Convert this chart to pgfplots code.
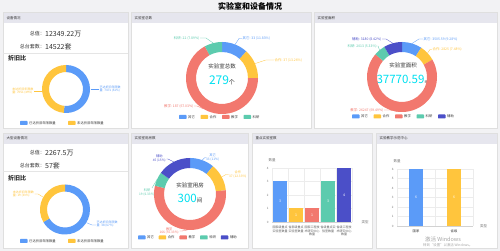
\documentclass[border=0pt]{standalone}
\usepackage{fontspec}
\setmainfont{Noto Sans CJK SC}
\usepackage{pgfplots}
\pgfplotsset{compat=1.18}

\definecolor{cb}{HTML}{5B9BF8}
\definecolor{cy}{HTML}{FFC53D}
\definecolor{cr}{HTML}{F2786E}
\definecolor{cg}{HTML}{5CCBAE}
\definecolor{cd}{HTML}{4B4FC8}
\definecolor{cc}{HTML}{00E0F0}
\definecolor{bg}{HTML}{F2F2F4}
\definecolor{hd}{HTML}{E6E6EE}
\definecolor{txt}{HTML}{333333}
\definecolor{lt}{HTML}{777777}

\newcommand{\ft}[1]{\fontsize{#1}{\fpeval{1.2*#1}}\selectfont}
% donut slice: start, end, total, colour, R, Ri (clockwise from 12 o'clock)
\newcommand{\slice}[6]{%
 \fill[#4] ([shift={({\fpeval{90-360*#1/#3}}:#5pt)}]axis cs:0,0)
   arc[start angle={\fpeval{90-360*#1/#3}}, end angle={\fpeval{90-360*#2/#3}}, radius=#5pt]
   -- ([shift={({\fpeval{90-360*#2/#3}}:#6pt)}]axis cs:0,0)
   arc[start angle={\fpeval{90-360*#2/#3}}, end angle={\fpeval{90-360*#1/#3}}, radius=#6pt] -- cycle;}
\newcommand{\panel}[6]{%
 \fill[white] (#1,#2) rectangle (#3,#4);
 \fill[hd] (#1,#2) rectangle (#3,#2+#5);
 \draw[line width=0.3pt, gray!25] (#1,#2) rectangle (#3,#4);
 \node[anchor=west, font=\ft{3.5}, text=txt, inner sep=0] at (#1+3.5,#2+#5/2) {#6};}
\newcommand{\leg}[4]{%
 \fill[#1, rounded corners=0.6pt] (#2,#3-2) rectangle (#2+7.5,#3+2);
 \node[anchor=west, font=\ft{3.3}, text=txt, inner sep=0] at (#2+9,#3) {#4};}

\pgfplotsset{donut/.style={anchor=center, hide axis, x=1pt, y=1pt,
  xmin=-40, xmax=40, ymin=-40, ymax=40, scale only axis, clip=false}}
\pgfplotsset{barax/.style={anchor=south west, scale only axis, clip=false,
  ymin=0, xmin=-0.5,
  minor grid style={gray!15, line width=0.3pt},
  major grid style={gray!15, line width=0.3pt},
  xminorgrids, ymajorgrids,
  axis x line*=bottom, axis y line*=left,
  axis line style={-, draw=gray!35, line width=0.3pt},
  y axis line style={draw=gray!15},
  major tick length=0pt, minor tick length=0pt,
  tick label style={font=\ft{3}, text=lt},
  xticklabel style={align=center, font=\ft{3}, text=txt!80, yshift=-0.5pt},
  /pgf/number format/assume math mode=true}}

\begin{document}
\begin{tikzpicture}[x=1pt,y=1pt]
\useasboundingbox (0,0) rectangle (500,251);
\fill[bg] (0,0) rectangle (500,251);
\begin{scope}[shift={(0,251)},yscale=-1]
 \node[font=\ft{8}\bfseries, text=black] at (250,6) {实验室和设备情况};
 % panels
 \panel{3}{12}{128}{128}{11.5}{设备情况}
 \panel{131}{12}{311}{128}{11.5}{实验室总数}
 \panel{314}{12}{497}{128}{11.5}{实验室面积}
 \panel{3}{133}{128}{248}{11}{大型设备情况}
 \panel{131}{133}{248}{248}{11}{实验室用房数}
 \panel{252}{133}{372}{248}{11}{重点实验室数}
 \panel{376}{133}{497}{248}{11}{实验教学示范中心}

 % ---------- panel 1 top
 \node[anchor=east, font=\ft{5}, text=txt, inner sep=0] at (45,34) {总值：};
 \node[anchor=west, font=\ft{7}, text=txt, inner sep=0] at (45,34) {12349.22万};
 \node[anchor=east, font=\ft{5}, text=txt, inner sep=0] at (45,47) {总台套数：};
 \node[anchor=west, font=\ft{7}, text=txt, inner sep=0] at (45,47) {14522套};
 \draw[gray!20, line width=0.3pt] (3,53) -- (128,53);
 \node[anchor=west, font=\ft{6}\bfseries, text=txt, inner sep=0] at (8,58.5) {折旧比};
 \draw[cb, line width=0.3pt] (90.5,89) -- (99,89);
 \node[anchor=west, align=left, font=\ft{3}, text=cb, inner sep=0] at (99.5,89) {已达折旧年限数\\量: 7471 (51\%)};
 \draw[cy, line width=0.3pt] (41.5,91) -- (34,91);
 \node[anchor=east, align=left, font=\ft{3}, text=cy, inner sep=0] at (33.5,91) {未达折旧年限数\\量: 7051 (49\%)};
 \leg{cb}{20}{123}{已达折旧年限数量}
 \leg{cy}{68}{123}{未达折旧年限数量}

 % ---------- panel 1 bottom
 \node[anchor=east, font=\ft{5}, text=txt, inner sep=0] at (45,153) {总值：};
 \node[anchor=west, font=\ft{7}, text=txt, inner sep=0] at (45,153) {2267.5万};
 \node[anchor=east, font=\ft{5}, text=txt, inner sep=0] at (45,165.5) {总台套数：};
 \node[anchor=west, font=\ft{7}, text=txt, inner sep=0] at (45,165.5) {57套};
 \draw[gray!20, line width=0.3pt] (3,171) -- (128,171);
 \node[anchor=west, font=\ft{6}\bfseries, text=txt, inner sep=0] at (8,178.5) {折旧比};
 \draw[cy, line width=0.3pt] (43.5,197.3) -- (38,194) -- (34.5,194);
 \node[anchor=east, align=left, font=\ft{3}, text=cy, inner sep=0] at (34,194) {未达折旧年限数\\量: 19 (33\%)};
 \draw[cb, line width=0.3pt] (86.5,222.7) -- (92,225) -- (96,225);
 \node[anchor=west, align=left, font=\ft{3}, text=cb, inner sep=0] at (96.5,224) {已达折旧年限数\\量: 38 (67\%)};
 \leg{cb}{20}{241}{已达折旧年限数量}
 \leg{cy}{68}{241}{未达折旧年限数量}

 % ---------- panel 2 top (实验室总数)
 \node[font=\ft{5.5}, text=txt] at (222,66) {实验室总数};
 \node[font=\ft{6}, text=txt] at (222,80) {\textcolor{cc}{\ft{12}279}个};
 \draw[cg, line width=0.3pt] (213.2,43.1) -- (206,38) -- (200,38);
 \node[anchor=east, font=\ft{3.4}, text=cg, inner sep=0] at (199.5,38) {科研: 22 (7.89\%)};
 \draw[cb, line width=0.3pt] (235.1,44.5) -- (239,38.5) -- (242,38.5);
 \node[anchor=west, font=\ft{3.4}, text=cb, inner sep=0] at (242.5,38.5) {其它: 33 (11.83\%)};
 \draw[cy, line width=0.3pt] (255,63.6) -- (266,60) -- (274,60);
 \node[anchor=west, font=\ft{3.4}, text=cy, inner sep=0] at (274.5,60) {合作: 37 (13.26\%)};
 \draw[cr, line width=0.3pt] (203.5,108.9) -- (197,106) -- (194,106);
 \node[anchor=east, font=\ft{3.4}, text=cr, inner sep=0] at (193.5,106) {教学: 187 (67.03\%)};
 \leg{cb}{179}{117}{其它}
 \leg{cy}{200.5}{117}{合作}
 \leg{cr}{222}{117}{教学}
 \leg{cg}{243.5}{117}{科研}

 % ---------- panel 3 top (实验室面积)
 \node[font=\ft{5.5}, text=txt] at (403,65) {实验室面积};
 \node[font=\ft{5}, text=txt] at (403,79) {\textcolor{cc}{\ft{11.5}37770.59}㎡};
 \draw[cd, line width=0.3pt] (392.8,43.2) -- (386,39) -- (382,39);
 \node[anchor=east, font=\ft{3.4}, text=cd, inner sep=0] at (381.5,39) {辅助: 3180 (8.42\%)};
 \draw[cg, line width=0.3pt] (379.6,50.1) -- (378,46) -- (377.5,46);
 \node[anchor=east, font=\ft{3.4}, text=cg, inner sep=0] at (377,46) {科研: 2013 (5.33\%)};
 \draw[cb, line width=0.3pt] (412,43.5) -- (419,39) -- (423,39);
 \node[anchor=west, font=\ft{3.4}, text=cb, inner sep=0] at (423.5,39) {其它: 3505.59 (9.28\%)};
 \draw[cy, line width=0.3pt] (427.6,53) -- (430,49.5) -- (432,49.5);
 \node[anchor=west, font=\ft{3.4}, text=cy, inner sep=0] at (432.5,49.5) {合作: 2825 (7.48\%)};
 \draw[cr, line width=0.3pt] (398.7,111.8) -- (390,110) -- (384,110);
 \node[anchor=east, font=\ft{3.4}, text=cr, inner sep=0] at (383.5,110) {教学: 26247 (69.49\%)};
 \leg{cb}{352}{116.5}{其它}
 \leg{cy}{373.5}{116.5}{合作}
 \leg{cr}{395}{116.5}{教学}
 \leg{cg}{416.5}{116.5}{科研}
 \leg{cd}{438}{116.5}{辅助}

 % ---------- panel 2 bottom (实验室用房数)
 \node[font=\ft{5.5}, text=txt] at (190,185) {实验室用房};
 \node[font=\ft{5.5}, text=txt] at (190,198.5) {\textcolor{cc}{\ft{11.5}300}间};
 \draw[cb, line width=0.3pt] (202.3,160) -- (205,157.5) -- (206,157.5);
 \node[anchor=west, align=center, font=\ft{3.2}, text=cb, inner sep=0] at (206,157.5) {其它\\33 (11\%)};
 \draw[cy, line width=0.3pt] (221.7,177) -- (226,174.5) -- (228.5,174.5);
 \node[anchor=west, align=center, font=\ft{3.2}, text=cy, inner sep=0] at (229,174.5) {合作\\37 (12.33\%)};
 \draw[cr, line width=0.3pt] (187.7,229.9) -- (182,231) -- (179.5,231);
 \node[anchor=east, align=center, font=\ft{3.2}, text=cr, inner sep=0] at (179,231) {教学\\166 (55.33\%)};
 \draw[cg, line width=0.3pt] (157.3,179) -- (152,188);
 \node[anchor=north, align=center, font=\ft{3.2}, text=cg, inner sep=0] at (147,188.5) {科研\\19 (6.33\%)};
 \draw[cd, line width=0.3pt] (173.7,161.9) -- (168,159) -- (166.5,159);
 \node[anchor=east, align=center, font=\ft{3.2}, text=cd, inner sep=0] at (166,158.5) {辅助\\45 (15\%)};
 \leg{cb}{138}{237.5}{其它}
 \leg{cy}{158.7}{237.5}{合作}
 \leg{cr}{179.4}{237.5}{教学}
 \leg{cg}{200.1}{237.5}{科研}
 \leg{cd}{220.8}{237.5}{辅助}
\end{scope}

% ---------- donuts
\begin{axis}[donut, at={(66pt,162pt)}]
 \slice{0}{7471}{14522}{cb}{24}{17}
 \slice{7471}{14522}{14522}{cy}{24}{17}
\end{axis}
\begin{axis}[donut, at={(65pt,41.5pt)}]
 \slice{0}{38}{57}{cb}{25}{18}
 \slice{38}{57}{57}{cy}{25}{18}
\end{axis}
\begin{axis}[donut, at={(222pt,173pt)}]
 \slice{0}{33}{279}{cb}{36}{26}
 \slice{33}{70}{279}{cy}{36}{26}
 \slice{70}{257}{279}{cr}{36}{26}
 \slice{257}{279}{279}{cg}{36}{26}
\end{axis}
\begin{axis}[donut, at={(402pt,174pt)}]
 \slice{0}{3505.59}{37770.59}{cb}{35}{25}
 \slice{3505.59}{6330.59}{37770.59}{cy}{35}{25}
 \slice{6330.59}{32577.59}{37770.59}{cr}{35}{25}
 \slice{32577.59}{34590.59}{37770.59}{cg}{35}{25}
 \slice{34590.59}{37770.59}{37770.59}{cd}{35}{25}
\end{axis}
\begin{axis}[donut, at={(190pt,57pt)}]
 \slice{0}{33}{300}{cb}{36}{26}
 \slice{33}{70}{300}{cy}{36}{26}
 \slice{70}{236}{300}{cr}{36}{26}
 \slice{236}{255}{300}{cg}{36}{26}
 \slice{255}{300}{300}{cd}{36}{26}
\end{axis}

% ---------- bar chart: 重点实验室数
\begin{axis}[barax, at={(272pt,29pt)}, width=80pt, height=54pt,
  xmax=4.5, ymax=4, ytick={0,1,2,3,4},
  xtick={0,1,2,3,4}, minor xtick={-0.5,0.5,1.5,2.5,3.5,4.5},
  xticklabels={{国家级重点\\实验室数量},{省部级重点\\实验室数量},{国家工程技\\术研究中心\\数量},{省级重点实\\验室数量},{省级工程技\\术研究中心\\数量}}]
 \addplot[ybar, bar width=14pt, bar shift=0pt, fill=cb, draw=none] coordinates {(0,3)};
 \addplot[ybar, bar width=14pt, bar shift=0pt, fill=cy, draw=none] coordinates {(1,1)};
 \addplot[ybar, bar width=14pt, bar shift=0pt, fill=cr, draw=none] coordinates {(2,1)};
 \addplot[ybar, bar width=14pt, bar shift=0pt, fill=cg, draw=none] coordinates {(3,3)};
 \addplot[ybar, bar width=14pt, bar shift=0pt, fill=cd, draw=none] coordinates {(4,4)};
 \addplot[draw=none, mark=none, nodes near coords, point meta=explicit symbolic,
   nodes near coords align={center},
   every node near coord/.append style={anchor=center, font=\ft{3.5}, text=white}]
   coordinates {(0,1.5)[3] (1,0.5)[1] (2,0.5)[1] (3,1.5)[3] (4,2)[4]};
 \node[font=\ft{3.5}, text=lt] at (rel axis cs:0,1) [yshift=7.5pt] {数量};
 \node[anchor=west, font=\ft{3.5}, text=lt] at (rel axis cs:1,0) [xshift=6pt] {类型};
\end{axis}

% ---------- bar chart: 实验教学示范中心
\begin{axis}[barax, at={(397pt,25pt)}, width=76pt, height=57pt,
  xmax=1.5, ymax=6, ytick={0,1,2,3,4,5,6},
  xtick={0,1}, minor xtick={-0.5,0.5,1.5},
  xticklabels={国家,省级},
  xticklabel style={font=\ft{3.3}, text=txt}]
 \addplot[ybar, bar width=14pt, bar shift=0pt, fill=cb, draw=none] coordinates {(0,6)};
 \addplot[ybar, bar width=14pt, bar shift=0pt, fill=cy, draw=none] coordinates {(1,6)};
 \addplot[draw=none, mark=none, nodes near coords, point meta=explicit symbolic,
   nodes near coords align={center},
   every node near coord/.append style={anchor=center, font=\ft{3.5}, text=white}]
   coordinates {(0,3)[6] (1,3)[6]};
 \node[font=\ft{3.5}, text=lt] at (rel axis cs:0,1) [yshift=8pt] {数量};
 \node[anchor=west, font=\ft{3.5}, text=lt] at (rel axis cs:1,0) [xshift=3.5pt] {类型};
\end{axis}

% watermark
\begin{scope}[shift={(0,251)},yscale=-1]
 \node[anchor=west, font=\ft{5.5}, text=gray!70, inner sep=0] at (425,239) {激活 Windows};
 \node[anchor=west, font=\ft{3.4}, text=gray!70, inner sep=0] at (423,245.5) {转到“设置”以激活 Windows。};
\end{scope}
\end{tikzpicture}
\end{document}
